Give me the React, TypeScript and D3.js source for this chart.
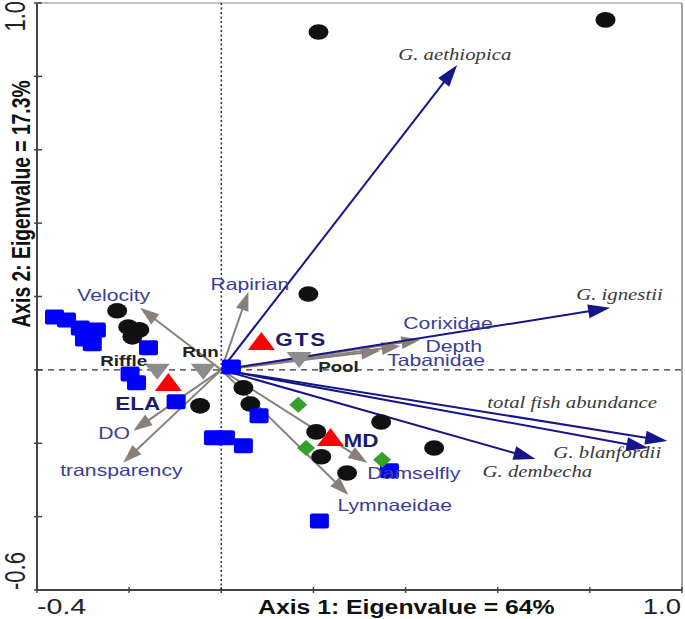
import React from "react";
import * as d3 from "d3";

// ---------- data ----------
const xDomain = [-0.4, 1.0];
const yDomain = [-0.6, 1.0];
const xTickValues = [-0.4, -0.2, 0, 0.2, 0.4, 0.6, 0.8, 1.0];
const yTickValues = [-0.6, -0.4, -0.2, 0, 0.2, 0.4, 0.6, 0.8, 1.0];
const xEndLabels = ["-0.4", "1.0"];
const yEndLabels = ["-0.6", "1.0"];
const xTitle = "Axis 1: Eigenvalue = 64%";
const yTitle = "Axis 2: Eigenvalue = 17.3%";

// fish species arrows
const speciesNames = ["G. aethiopica", "G. ignestii", "total fish abundance", "G. blanfordii", "G. dembecha"];
const speciesX = [0.512, 0.844, 0.968, 0.927, 0.682];
const speciesY = [0.831, 0.169, -0.194, -0.213, -0.243];

// environmental variables / macroinvertebrate arrows
const envNames = ["Velocity", "Rapirian", "DO", "transparency", "Corixidae", "Depth", "Tabanidae", "Damselfly", "Lymnaeidae"];
const envX = [-0.176, 0.059, -0.191, -0.213, 0.432, 0.389, 0.345, 0.317, 0.276];
const envY = [0.169, 0.213, -0.166, -0.253, 0.082, 0.065, 0.052, -0.253, -0.341];

// sample scores
const dotX = [0.211, 0.834, 0.189, -0.226, -0.202, -0.178, -0.193, -0.046, 0.048, 0.063, 0.206, 0.217, 0.273, 0.347, 0.462];
const dotY = [0.921, 0.954, 0.207, 0.161, 0.117, 0.109, 0.09, -0.098, -0.049, -0.093, -0.169, -0.237, -0.281, -0.142, -0.213];

const squareX = [-0.362, -0.336, -0.306, -0.271, -0.297, -0.28, -0.158, -0.198, -0.184, -0.098, 0.022, -0.017, 0.009, 0.048, 0.082, 0.365, 0.213];
const squareY = [0.144, 0.136, 0.114, 0.109, 0.084, 0.071, 0.06, -0.011, -0.035, -0.087, 0.008, -0.185, -0.185, -0.207, -0.125, -0.275, -0.412];

const diamondX = [0.167, 0.184, 0.349];
const diamondY = [-0.095, -0.213, -0.245];

// site centroids (red) and flow-type centroids (grey)
const siteNames = ["GTS", "MD", "ELA"];
const siteX = [0.087, 0.237, -0.115];
const siteY = [0.079, -0.183, -0.033];

const flowNames = ["Riffle", "Run", "Pool"];
const flowX = [-0.139, -0.039, 0.169];
const flowY = [-0.005, -0.005, 0.027];

// ---------- layout (pixel offsets of labels) ----------
const speciesLabelOffset: Record<string, [number, number]> = {
  "G. aethiopica": [-59, -5],
  "G. ignestii": [-34, -8],
  "total fish abundance": [-180, -33],
  "G. blanfordii": [-95, 10],
  "G. dembecha": [-53, 18],
};
const envLabelOffset: Record<string, [number, number]> = {
  Velocity: [-63, -7],
  Rapirian: [-38, -2],
  DO: [-35, 8],
  transparency: [-63, 13],
  Corixidae: [-17, -11],
  Depth: [25, 6],
  Tabanidae: [7, 15],
  Damselfly: [0, 16],
  Lymnaeidae: [-11, 16],
};
const flowLabelOffset: Record<string, [number, number]> = {
  Riffle: [-57, -6],
  Run: [-21, -15],
  Pool: [19, 12],
};
const siteLabelOffset: Record<string, [number, number]> = {
  GTS: [14, 5],
  MD: [13, 10],
  ELA: [-53, 28],
};

const W = 685;
const H = 619;
const L = 37, R = 682, TOP = 3, BOT = 590;

const SANS = "'Liberation Sans', Arial, Helvetica, sans-serif";
const SERIF = "'Liberation Serif', 'Times New Roman', serif";
const NAVY = "#16168a";
const GREY = "#8a8079";
const LABEL_BLUE = "#3c3c98";

const T = ({ x, y, sx = 1.3, rot = 0, children, ...rest }: any) => (
  <text transform={`translate(${x},${y}) scale(${sx},1)${rot ? ` rotate(${rot})` : ""}`} {...rest}>
    {children}
  </text>
);

function Arrow({ x0, y0, x1, y1, color, width, headLen, headHalf }: any) {
  const a = Math.atan2(y1 - y0, x1 - x0);
  const bx = x1 - headLen * Math.cos(a);
  const by = y1 - headLen * Math.sin(a);
  const px = -Math.sin(a) * headHalf;
  const py = Math.cos(a) * headHalf;
  const head = `M${x1},${y1}L${bx + px},${by + py}L${bx - px},${by - py}Z`;
  return (
    <g>
      <line x1={x0} y1={y0} x2={bx + Math.cos(a) * 2} y2={by + Math.sin(a) * 2} stroke={color} strokeWidth={width} />
      <path d={head} fill={color} />
    </g>
  );
}

export default function App() {
  const x = d3.scaleLinear().domain(xDomain).range([L, R]);
  const y = d3.scaleLinear().domain(yDomain).range([BOT, TOP]);
  const ox = x(0);
  const oy = y(0);

  const triUp = (cx: number, cy: number, w: number, h: number) =>
    `M${cx},${cy - h / 2}L${cx + w / 2},${cy + h / 2}L${cx - w / 2},${cy + h / 2}Z`;
  const triDown = (cx: number, cy: number, w: number, h: number) =>
    `M${cx - w / 2},${cy - h / 2}L${cx + w / 2},${cy - h / 2}L${cx},${cy + h / 2}Z`;
  const diamond = (cx: number, cy: number, rx: number, ry: number) =>
    `M${cx},${cy - ry}L${cx + rx},${cy}L${cx},${cy + ry}L${cx - rx},${cy}Z`;

  return (
    <svg width={W} height={H} style={{ position: "absolute", left: 0, top: 0, background: "#fff" }}>
      <rect x={0} y={0} width={W} height={H} fill="#fff" />
      {/* frame */}
      <line x1={L} y1={TOP} x2={R} y2={TOP} stroke="#8a8a8a" strokeWidth={1.2} />
      <line x1={R} y1={TOP} x2={R} y2={BOT} stroke="#6a6a6a" strokeWidth={1.2} />
      <line x1={L} y1={TOP} x2={L} y2={BOT} stroke="#444" strokeWidth={2} />
      <line x1={L} y1={BOT} x2={R} y2={BOT} stroke="#444" strokeWidth={2} />
      {xTickValues.map((v) => (
        <line key={"xt" + v} x1={x(v)} x2={x(v)} y1={BOT - 3} y2={BOT + 3} stroke="#444" strokeWidth={1.5} />
      ))}
      {yTickValues.map((v) => (
        <line key={"yt" + v} x1={L - 3} x2={L + 5} y1={y(v)} y2={y(v)} stroke="#444" strokeWidth={1.5} />
      ))}
      {/* zero lines */}
      <line x1={ox} x2={ox} y1={TOP} y2={BOT} stroke="#333" strokeWidth={1.6} strokeDasharray="2,2.5" />
      <line x1={L} x2={R} y1={oy} y2={oy} stroke="#333" strokeWidth={1.3} strokeDasharray="6,5" />

      {/* axis end labels */}
      <T x={L} y={614} fontFamily={SANS} fontSize={22} fill="#222" textAnchor="start">{xEndLabels[0]}</T>
      <T x={R - 1} y={614} sx={1.25} fontFamily={SANS} fontSize={22} fill="#222" textAnchor="end">{xEndLabels[1]}</T>
      <T x={25} y={590} rot={-90} fontFamily={SANS} fontSize={22} fill="#222" textAnchor="start">{yEndLabels[0]}</T>
      <T x={25} y={1} rot={-90} fontFamily={SANS} fontSize={22} fill="#222" textAnchor="end">{yEndLabels[1]}</T>

      {/* titles */}
      <T x={258} y={614} sx={1.18} fontFamily={SANS} fontSize={21} fontWeight="bold" fill="#111">{xTitle}</T>
      <T x={30} y={204} rot={-90} fontFamily={SANS} fontSize={19.3} fontWeight="bold" fill="#111" textAnchor="middle">{yTitle}</T>

      {/* grey arrows */}
      {envNames.map((n, i) => (
        <Arrow key={"ea" + n} x0={ox} y0={oy} x1={x(envX[i])} y1={y(envY[i])} color={GREY} width={2} headLen={19} headHalf={6.5} />
      ))}
      {/* navy arrows */}
      {speciesNames.map((n, i) => (
        <Arrow key={"sa" + n} x0={ox} y0={oy} x1={x(speciesX[i])} y1={y(speciesY[i])} color={NAVY} width={2} headLen={22} headHalf={7} />
      ))}

      {/* samples */}
      {dotX.map((v, i) => (
        <ellipse key={"d" + i} cx={x(v)} cy={y(dotY[i])} rx={10} ry={7.8} fill="#111" />
      ))}
      {squareX.map((v, i) => (
        <rect key={"s" + i} x={x(v) - 9.5} y={y(squareY[i]) - 7.5} width={19} height={15} rx={2} fill="#0000ff" />
      ))}
      {diamondX.map((v, i) => (
        <path key={"g" + i} d={diamond(x(v), y(diamondY[i]), 9, 8)} fill="#33a02c" />
      ))}

      {/* flow centroids */}
      {flowNames.map((n, i) => (
        <path key={"f" + n} d={triDown(x(flowX[i]), y(flowY[i]), 25, 16)} fill="#8c8c8c" />
      ))}
      {/* site centroids */}
      {siteNames.map((n, i) => (
        <path key={"r" + n} d={triUp(x(siteX[i]), y(siteY[i]), 27, 18)} fill="#ff0000" />
      ))}

      {/* labels */}
      {speciesNames.map((n, i) => {
        const [dx, dy] = speciesLabelOffset[n];
        return (
          <T key={"sl" + n} x={x(speciesX[i]) + dx} y={y(speciesY[i]) + dy} sx={1.3} fontFamily={SERIF} fontStyle="italic" fontSize={16} fill="#3a3a3a">
            {n}
          </T>
        );
      })}
      {envNames.map((n, i) => {
        const [dx, dy] = envLabelOffset[n];
        return (
          <T key={"el" + n} x={x(envX[i]) + dx} y={y(envY[i]) + dy} sx={1.3} fontFamily={SANS} fontSize={16.3} fill={LABEL_BLUE}>
            {n}
          </T>
        );
      })}
      {flowNames.map((n, i) => {
        const [dx, dy] = flowLabelOffset[n];
        return (
          <T key={"fl" + n} x={x(flowX[i]) + dx} y={y(flowY[i]) + dy} sx={1.25} fontFamily={SANS} fontSize={15} fontWeight="bold" fill="#222">
            {n}
          </T>
        );
      })}
      {siteNames.map((n, i) => {
        const [dx, dy] = siteLabelOffset[n];
        return (
          <T key={"rl" + n} x={x(siteX[i]) + dx} y={y(siteY[i]) + dy} sx={1.25} fontFamily={SANS} fontSize={18} fontWeight="bold" fill="#1c1c6e" letterSpacing={n === "GTS" ? 1.5 : 0}>
            {n}
          </T>
        );
      })}
    </svg>
  );
}
